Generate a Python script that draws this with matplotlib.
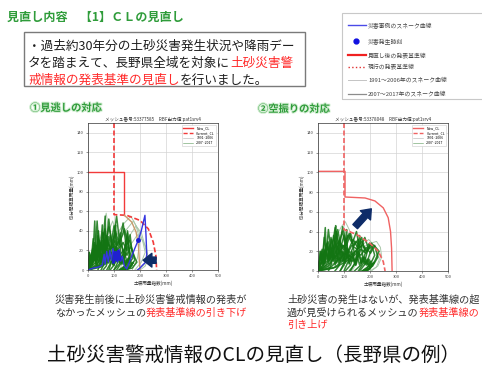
import matplotlib
matplotlib.use('Agg')
import matplotlib.pyplot as plt
from matplotlib.patches import Rectangle
from matplotlib.lines import Line2D
from matplotlib.text import Annotation
import matplotlib.patheffects as pe

plt.rcParams['font.family'] = ['Noto Sans CJK JP', 'DejaVu Sans']

# ---------------- data ----------------
XTICKS = [0, 100, 200, 300, 400, 500]
YTICKS = [0, 20, 40, 60, 80, 100, 120, 140]

# left chart (見逃しの対応)
L_NEW_X = [0, 140, 140, 168, 185, 194, 197, 200]
L_NEW_Y = [100, 100, 55.8, 49, 38.7, 25, 11.3, 0]
L_CUR_X = [100, 100, 149, 200, 232, 251, 261, 264]
L_CUR_Y = [150, 56.5, 55.8, 50.6, 42, 28.4, 14.7, 0]
L_BLUE_X = [0, 20, 40, 55, 62, 66, 72, 78, 84, 90, 96, 102, 108, 114, 120, 126, 132, 140, 149, 165, 180, 194, 205, 219, 223, 226, 222, 210, 200, 190]
L_BLUE_Y = [0, 2, 3, 5, 16, 6, 19, 8, 20, 10, 22, 12, 18, 8, 21, 9, 14, 4, 1, 12, 22, 31, 40, 55.8, 36, 16, 8, 5, 2, 0]
L_BLOB_X = [98, 104, 110, 116, 122]
L_BLOB_Y = [8, 18, 10, 19, 11]
L_DOT = (194, 31)
L_DARK = [
    ([0, 10, 18, 25, 33, 40, 48, 55, 62, 70, 60, 50], [0, 15, 6, 28, 12, 40, 18, 30, 10, 18, 5, 0]),
    ([0, 12, 20, 30, 38, 46, 55, 64, 72, 80, 70, 58], [0, 10, 22, 8, 35, 14, 46, 20, 32, 12, 4, 0]),
    ([0, 15, 25, 35, 45, 55, 65, 75, 85, 95, 85, 72], [0, 8, 20, 12, 30, 18, 42, 22, 35, 15, 6, 0]),
    ([0, 20, 32, 44, 56, 68, 80, 92, 104, 116, 100, 85], [0, 12, 25, 10, 38, 20, 52, 24, 30, 14, 5, 0]),
    ([0, 25, 40, 55, 70, 85, 100, 112, 124, 136, 120, 100], [0, 10, 22, 15, 35, 20, 45, 25, 38, 16, 6, 0]),
    ([0, 30, 45, 60, 75, 90, 105, 120, 135, 150, 130, 110], [0, 8, 18, 12, 28, 22, 40, 26, 48, 18, 8, 0]),
    ([0, 35, 55, 72, 90, 108, 125, 140, 155, 165, 145, 120], [0, 6, 15, 10, 24, 18, 30, 42, 25, 14, 5, 0]),
    ([0, 40, 60, 80, 100, 118, 135, 150, 162, 172, 150, 125], [0, 5, 12, 18, 10, 22, 28, 20, 36, 12, 4, 0]),
    ([0, 45, 70, 90, 110, 128, 145, 160, 172, 180, 160, 135], [0, 4, 10, 14, 20, 12, 25, 30, 18, 10, 3, 0]),
    ([0, 50, 75, 95, 115, 135, 150, 165, 178, 188, 170, 140], [0, 3, 8, 16, 12, 20, 15, 24, 14, 8, 2, 0]),
    ([0, 5, 12, 20, 28, 35, 42, 50, 45, 38], [0, 18, 8, 32, 15, 50, 22, 12, 5, 0]),
    ([0, 30, 50, 65, 80, 95, 110, 125, 115, 100], [0, 14, 28, 18, 44, 26, 55, 20, 8, 0]),
    ([0, 60, 85, 105, 120, 138, 152, 160, 150, 130], [0, 6, 14, 22, 30, 18, 38, 16, 6, 0]),
    ([0, 18, 28, 38, 48, 58, 68, 78, 88, 98, 90, 80], [0, 22, 10, 30, 16, 38, 20, 34, 14, 24, 8, 0]),
    ([0, 8, 16, 24, 32, 40, 48, 56, 64, 72, 80, 88, 96, 104, 112, 120, 128, 136, 144, 152, 160, 150, 130],
     [0, 14, 5, 18, 7, 22, 6, 16, 9, 24, 7, 18, 5, 20, 8, 16, 6, 14, 5, 10, 4, 2, 0]),
    ([0, 10, 20, 30, 40, 50, 60, 70, 80, 90, 100, 110, 120, 130, 140, 150, 160, 170, 160, 140],
     [0, 8, 20, 6, 24, 10, 28, 8, 22, 12, 26, 9, 20, 7, 18, 8, 12, 5, 2, 0]),
    ([0, 5, 15, 25, 35, 45, 55, 65, 75, 85, 95, 105, 115, 125, 135, 145, 140, 120],
     [0, 18, 8, 26, 10, 20, 6, 30, 12, 18, 6, 24, 10, 16, 6, 10, 3, 0]),
    ([0, 12, 22, 34, 44, 56, 66, 78, 88, 100, 110, 122, 132, 144, 154, 166, 175, 160, 140],
     [0, 6, 16, 4, 14, 6, 20, 8, 16, 5, 18, 7, 14, 6, 12, 5, 8, 2, 0]),
    ([0, 15, 22, 26, 30, 40, 55, 62, 66, 70, 80, 95, 102, 106, 110, 125, 140, 148, 152, 160, 150],
     [0, 10, 30, 50, 18, 8, 12, 35, 55, 20, 10, 14, 32, 46, 15, 8, 12, 28, 40, 10, 0]),
]
L_LIGHT = [
    ([0, 40, 80, 120, 150, 175, 195, 210, 220, 205, 180], [0, 10, 20, 30, 42, 50, 40, 30, 18, 8, 0]),
    ([0, 50, 90, 130, 160, 185, 205, 218, 228, 215, 190], [0, 8, 15, 25, 35, 45, 38, 26, 14, 5, 0]),
    ([0, 60, 100, 140, 170, 190, 210, 225, 232, 220, 200], [0, 6, 12, 20, 28, 36, 30, 22, 12, 4, 0]),
    ([0, 30, 70, 110, 140, 165, 185, 200, 190, 170], [0, 12, 24, 36, 48, 55, 45, 30, 12, 0]),
    ([0, 20, 45, 60, 70, 80, 95, 110, 130, 150, 140, 120], [0, 15, 30, 45, 58, 40, 50, 35, 44, 30, 10, 0]),
]

# right chart (空振りの対応)
R_NEW_X = [0, 104, 104, 181, 219, 251, 270, 279, 283, 285]
R_NEW_Y = [101, 101, 75, 74, 71, 64, 54, 40, 23, 0]
R_CUR_X = [100, 100, 149, 200, 232, 251, 258]
R_CUR_Y = [150, 42, 37, 28, 20, 9.5, 0]
R_DARK = [
    ([0, 10, 20, 30, 40, 50, 60, 70, 80, 90, 80, 65], [0, 14, 6, 26, 12, 34, 18, 40, 22, 14, 5, 0]),
    ([0, 15, 28, 40, 52, 64, 76, 88, 100, 112, 100, 85], [0, 10, 22, 12, 32, 18, 42, 24, 36, 16, 6, 0]),
    ([0, 20, 35, 50, 65, 80, 95, 110, 125, 140, 125, 105], [0, 12, 24, 14, 30, 20, 45, 26, 38, 18, 6, 0]),
    ([0, 25, 45, 62, 80, 98, 115, 132, 148, 162, 145, 120], [0, 8, 20, 15, 28, 22, 36, 28, 40, 20, 8, 0]),
    ([0, 30, 55, 75, 95, 115, 135, 152, 168, 182, 165, 140], [0, 6, 16, 12, 26, 20, 32, 24, 34, 18, 6, 0]),
    ([0, 40, 65, 88, 110, 130, 150, 168, 185, 198, 180, 155], [0, 5, 14, 20, 16, 26, 22, 30, 20, 28, 10, 0]),
    ([0, 50, 80, 105, 128, 150, 170, 188, 205, 218, 200, 170], [0, 4, 12, 18, 14, 22, 26, 20, 28, 16, 6, 0]),
    ([0, 60, 95, 120, 145, 165, 185, 202, 218, 230, 210, 180], [0, 3, 10, 15, 20, 16, 24, 18, 26, 14, 5, 0]),
    ([0, 8, 16, 24, 32, 40, 48, 56, 50, 40], [0, 20, 10, 34, 18, 42, 24, 14, 6, 0]),
    ([0, 20, 38, 52, 66, 80, 94, 108, 100, 85], [0, 16, 30, 20, 44, 28, 40, 22, 8, 0]),
    ([0, 35, 60, 80, 100, 120, 138, 155, 145, 125], [0, 10, 22, 30, 24, 38, 26, 32, 10, 0]),
    ([0, 70, 110, 140, 165, 185, 205, 222, 235, 215, 190], [0, 4, 10, 16, 22, 18, 28, 24, 20, 8, 0]),
    ([0, 12, 24, 36, 48, 60, 72, 84, 96, 108, 120, 100], [0, 18, 8, 28, 14, 36, 20, 32, 16, 30, 12, 0]),
    ([0, 45, 75, 100, 125, 145, 165, 180, 195, 210, 190, 160], [0, 8, 18, 26, 18, 30, 24, 34, 22, 26, 10, 0]),
    ([0, 10, 20, 30, 40, 50, 60, 70, 80, 90, 100, 110, 120, 130, 140, 150, 160, 170, 180, 190, 200, 210, 195, 170],
     [0, 16, 6, 20, 8, 24, 10, 22, 8, 20, 10, 18, 7, 20, 8, 16, 6, 14, 7, 12, 5, 8, 2, 0]),
    ([0, 6, 16, 26, 36, 46, 56, 66, 76, 86, 96, 106, 116, 126, 136, 146, 156, 166, 176, 186, 196, 206, 216, 200, 180],
     [0, 10, 22, 8, 26, 12, 20, 6, 24, 10, 18, 8, 22, 10, 16, 6, 18, 8, 14, 6, 12, 5, 9, 2, 0]),
    ([0, 12, 24, 36, 48, 60, 72, 84, 96, 108, 120, 132, 144, 156, 168, 180, 192, 204, 190, 170],
     [0, 20, 8, 28, 12, 18, 8, 26, 10, 22, 8, 16, 6, 20, 8, 14, 6, 10, 3, 0]),
    ([0, 18, 24, 28, 32, 45, 58, 64, 68, 72, 88, 100, 106, 110, 114, 130, 150, 156, 160, 175, 190, 200, 185],
     [0, 12, 30, 44, 16, 10, 14, 34, 46, 15, 10, 12, 30, 42, 14, 10, 12, 26, 36, 10, 8, 4, 0]),
]
R_LIGHT = [
    ([0, 30, 60, 90, 105, 120, 140, 160, 150, 130], [0, 15, 30, 45, 50, 42, 30, 18, 8, 0]),
    ([0, 60, 110, 160, 200, 225, 240, 245, 230, 200], [0, 8, 15, 22, 28, 30, 24, 14, 5, 0]),
    ([0, 80, 130, 170, 195, 215, 228, 236, 225, 205], [0, 10, 18, 26, 32, 26, 20, 12, 4, 0]),
]

L_ARROW = ((262, 10), (212, 10))
R_ARROW = ((143, 45), (205, 63))

# ---------------- figure ----------------
W, H = 482, 366
fig = plt.figure(figsize=(4.82, 3.66), dpi=100)
fig.patch.set_facecolor('white')


def fx(x):
    return x / W


def fy(y):
    return 1 - y / H


TXTRED = '#ff2a2a'
GREEN_T = '#2f9c3a'
NAVY = '#0e2c68'
DKGREEN = '#137513'


def draw_chart(rect, title, nx, ny, cx, cy, dark, light, arrow, red):
    ax = fig.add_axes(rect)
    ax.set_xlim(0, 500)
    ax.set_ylim(0, 150)
    ax.set_xticks(XTICKS)
    ax.set_yticks(YTICKS)
    ax.tick_params(labelsize=3, length=1.5, width=0.4, pad=1.5, colors='#444')
    ax.grid(True, color='#d4d4d4', lw=0.5)
    ax.set_axisbelow(True)
    for s in ax.spines.values():
        s.set_linewidth(0.5)
        s.set_color('#333')
    for xs, ys in light:
        ax.plot(xs, ys, color='#a9c7a9', lw=0.7)
    for xs, ys in dark:
        ax.plot(xs, ys, color=DKGREEN, lw=1.1, alpha=0.85)
    ax.plot(cx, cy, color=red, lw=1.2, ls=(0, (3, 1.5)))
    ax.plot(nx, ny, color=red, lw=1.0)
    ax.annotate('', xy=arrow[1], xytext=arrow[0],
                arrowprops=dict(arrowstyle='simple,head_length=0.7,head_width=1.1,tail_width=0.5',
                                color=NAVY, shrinkA=0, shrinkB=0, mutation_scale=9))
    ax.set_title(title, fontsize=3.3, pad=1.5, color='#333')
    ax.set_ylabel('60分間積算雨量(mm)', fontsize=3.3, labelpad=1.5, color='#333')
    ax.set_xlabel('土壌雨量指数(mm)', fontsize=3.3, labelpad=1.5, color='#333')
    handles = [Line2D([], [], color=red, lw=1.0),
               Line2D([], [], color=red, lw=1.0, ls=(0, (3, 1.5))),
               Line2D([], [], color='#b0b0b0', lw=0.4),
               Line2D([], [], color='#5a9a5a', lw=0.4)]
    leg = ax.legend(handles, ['New_CL', 'Current_CL', '1991~2006', '2007~2017'],
                    loc='upper right', fontsize=2.5, handlelength=3, borderpad=0.4,
                    labelspacing=0.25, fancybox=False, framealpha=1, edgecolor='#cccccc')
    leg.get_frame().set_linewidth(0.4)
    return ax


axL = draw_chart([fx(88), fy(270), 130 / W, 147 / H], 'メッシュ番号:53377585　RBF出力値:pat1srv4',
                 L_NEW_X[:3], L_NEW_Y[:3], L_CUR_X, L_CUR_Y, L_DARK, L_LIGHT, L_ARROW, '#f23a3a')
axL.plot(L_NEW_X[2:], L_NEW_Y[2:], color='#c89a6c', lw=1.0)
axL.plot(L_BLUE_X, L_BLUE_Y, color='#3535e0', lw=1.0)
axL.plot(L_BLOB_X, L_BLOB_Y, color='#2020d0', lw=2.2)
axL.plot([L_DOT[0]], [L_DOT[1]], 'o', color='#1a1ad0', ms=2.5)

axR = draw_chart([fx(318), fy(271), 130 / W, 148 / H], 'メッシュ番号:53378048　RBF出力値:pat1srv4',
                 R_NEW_X, R_NEW_Y, R_CUR_X, R_CUR_Y, R_DARK, R_LIGHT, R_ARROW, '#f06262')

# ---------------- slide texts ----------------
fig.text(fx(7), fy(17), '見直し内容　【1】ＣＬの見直し', fontsize=8.7, fontweight='bold',
         color=GREEN_T, va='center', ha='left')

fig.add_artist(Rectangle((fx(24), fy(86)), fx(305) - fx(24), 54 / H, transform=fig.transFigure,
                         fill=False, edgecolor='#7a7a7a', lw=1.0))


def seg_line(x, y, parts, size, weight='normal'):
    prev = None
    for txt, col in parts:
        if prev is None:
            prev = fig.text(fx(x), fy(y), txt, fontsize=size, color=col, va='center',
                            ha='left', fontweight=weight)
        else:
            a = Annotation(txt, xy=(1, 0), xycoords=prev, fontsize=size, color=col,
                           va='bottom', ha='left', fontweight=weight)
            fig.add_artist(a)
            prev = a
    return prev


BLK = '#1e1e1e'
seg_line(28, 46, [('・過去約30年分の土砂災害発生状況や降雨デー', BLK)], 9.1)
seg_line(28, 63, [('タを踏まえて、長野県全域を対象に', BLK), ('土砂災害警', TXTRED)], 9.1)
seg_line(28, 80, [('戒情報の発表基準の見直し', TXTRED), ('を行いました。', BLK)], 9.1)

# legend box at top right
fig.add_artist(Rectangle((fx(342), fy(99)), 150 / W, 86 / H, transform=fig.transFigure,
                         fill=False, edgecolor='#c8c8c8', lw=0.8))
LEG_LABELS = ['災害事例のスネーク曲線', '災害発生時刻', '見直し後の発表基準線', '現行の発表基準線',
              '1991～2006年のスネーク曲線', '2007～2017年のスネーク曲線']
LEG_Y = [25, 41, 55, 67, 80, 94]
leg_styles = [dict(color='#4a4ae8', lw=1.0), None, dict(color='#f02020', lw=1.6),
              dict(color='#e03030', lw=1.0, ls=':'), dict(color='#c4c4c4', lw=0.7),
              dict(color='#8c8c8c', lw=0.9)]
for lab, yy, st in zip(LEG_LABELS, LEG_Y, leg_styles):
    if st is None:
        fig.add_artist(Line2D([fx(356)], [fy(yy)], transform=fig.transFigure, marker='o',
                              color='#1010e0', ms=3.5, ls='none'))
    else:
        fig.add_artist(Line2D([fx(348), fx(366)], [fy(yy), fy(yy)], transform=fig.transFigure, **st))
    fig.text(fx(368), fy(yy), lab, fontsize=4.2, color='#444', va='center', ha='left')

glow = [pe.withStroke(linewidth=1.5, foreground='#d8f0d8')]
fig.text(fx(30), fy(108), '①見逃しの対応', fontsize=7.4, fontweight='bold', color=GREEN_T,
         va='center', ha='left', path_effects=glow)
fig.text(fx(258), fy(109), '②空振りの対応', fontsize=7.4, fontweight='bold', color=GREEN_T,
         va='center', ha='left', path_effects=glow)

seg_line(55, 300, [('災害発生前後に土砂災害警戒情報の発表が', '#333')], 7.3)
seg_line(55, 313, [('なかったメッシュの', '#333'), ('発表基準線の引き下げ', TXTRED)], 7.3)
seg_line(287, 300, [('土砂災害の発生はないが、発表基準線の超', '#333')], 7.3)
seg_line(287, 313, [('過が見受けられるメッシュの', '#333'), ('発表基準線の', TXTRED)], 7.3)
seg_line(287, 325, [('引き上げ', TXTRED)], 7.3)

fig.text(fx(254), fy(355), '土砂災害警戒情報のCLの見直し（長野県の例）', fontsize=14,
         color='#111', va='center', ha='center')

fig.savefig('out.png', dpi=100)
